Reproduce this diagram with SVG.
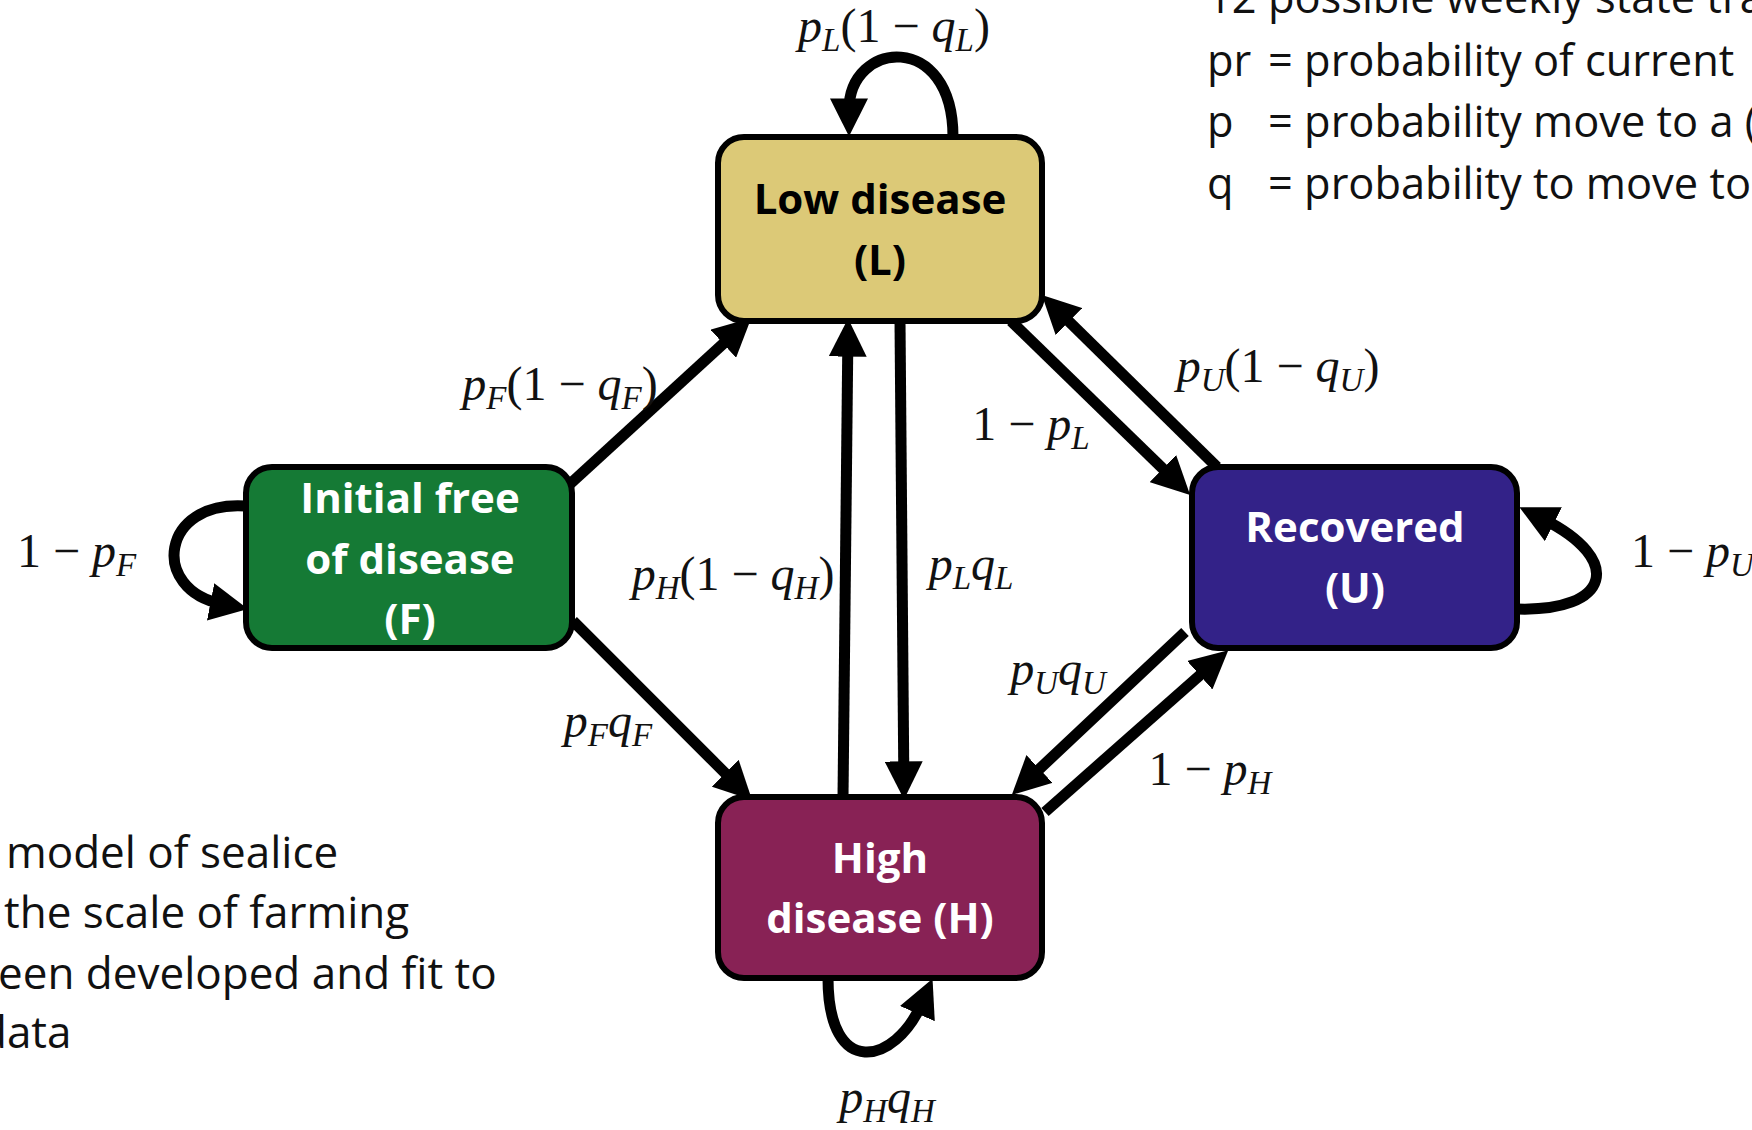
<svg xmlns="http://www.w3.org/2000/svg" width="1752" height="1130" viewBox="0 0 1752 1130">
  <style>
    .box { stroke: #000; stroke-width: 6; }
    .lbl { font-family: "Open Sans", "Noto Sans", sans-serif; font-weight: 700; font-size: 42px; text-anchor: middle; }
    .edge { fill: none; stroke: #000; stroke-width: 11; marker-end: url(#ah); }
    .m { font-family: "Liberation Serif", serif; font-size: 48px; fill: #111; }
    .i { font-style: italic; }
    .s { font-style: italic; font-size: 33px; }
    .note { font-family: "Open Sans", "Noto Sans", sans-serif; font-size: 44px; fill: #111; }
    .legend { font-size: 43.4px; }
  </style>
  <defs>
    <marker id="ah" markerUnits="userSpaceOnUse" markerWidth="38" markerHeight="38" viewBox="0 0 36 36" refX="11" refY="18" orient="auto">
      <path d="M0,0 L36,18 L0,36 z" fill="#000"/>
    </marker>
  </defs>

  <rect width="1752" height="1130" fill="#fff"/>

  <!-- legend, top right -->
  <g id="legend">
    <text class="note legend" x="1207" y="13">12 possible weekly state tra</text>
    <text class="note legend" y="76"><tspan x="1207">pr</tspan><tspan x="1268">= probability of current</tspan></text>
    <text class="note legend" y="137"><tspan x="1207">p</tspan><tspan x="1268">= probability move to a (</tspan></text>
    <text class="note legend" y="199"><tspan x="1207">q</tspan><tspan x="1268">= probability to move to</tspan></text>
  </g>

  <!-- description, bottom left -->
  <g id="description">
    <text class="note" x="6" y="868">model of sealice</text>
    <text class="note" x="4" y="928">the scale of farming</text>
    <text class="note" x="-2" y="989">een developed and fit to</text>
    <text class="note" x="-20" y="1048">data</text>
  </g>

  <!-- transitions -->
  <g id="connectors">
    <path class="edge" d="M570,484 L731.8,335.9"/>
    <path class="edge" d="M573,621 L733.4,781.4"/>
    <path class="edge" d="M843,797 L847.8,345"/>
    <path class="edge" d="M900,321 L903.8,773"/>
    <path class="edge" d="M1011,321 L1171.2,476.7"/>
    <path class="edge" d="M1217,467 L1060.7,313.4"/>
    <path class="edge" d="M1185,632 L1031,776.9"/>
    <path class="edge" d="M1045,812 L1208.5,667.6"/>
    <!-- self loops -->
    <path class="edge" d="M953,137 C953,30 849,40 849,110"/>
    <path class="edge" d="M246,506 C160,500 150,590 222,604"/>
    <path class="edge" d="M1517,609 C1610,612 1625,560 1543,519"/>
    <path class="edge" d="M828,978 C828,1080 895,1065 922,1003"/>
  </g>

  <!-- states -->
  <g id="node-L">
    <rect class="box" x="718" y="137" width="324" height="184" rx="26" fill="#DCC977"/>
    <text class="lbl" x="880" y="214" fill="#000">Low disease</text>
    <text class="lbl" x="880" y="275" fill="#000">(L)</text>
  </g>
  <g id="node-F">
    <rect class="box" x="246" y="467" width="326" height="181" rx="26" fill="#157A35"/>
    <text class="lbl" x="410" y="513" fill="#fff">Initial free</text>
    <text class="lbl" x="410" y="574" fill="#fff">of disease</text>
    <text class="lbl" x="410" y="634" fill="#fff">(F)</text>
  </g>
  <g id="node-U">
    <rect class="box" x="1192" y="467" width="325" height="181" rx="26" fill="#332288"/>
    <text class="lbl" x="1355" y="542" fill="#fff">Recovered</text>
    <text class="lbl" x="1355" y="603" fill="#fff">(U)</text>
  </g>
  <g id="node-H">
    <rect class="box" x="718" y="797" width="324" height="181" rx="26" fill="#882255"/>
    <text class="lbl" x="880" y="873" fill="#fff">High</text>
    <text class="lbl" x="880" y="933" fill="#fff">disease (H)</text>
  </g>

  <!-- transition probabilities -->
  <g id="labels">
    <text class="m" x="894" y="42" text-anchor="middle"><tspan class="i">p</tspan><tspan class="s" dy="9">L</tspan><tspan dy="-9">(1 − </tspan><tspan class="i">q</tspan><tspan class="s" dy="9">L</tspan><tspan dy="-9">)</tspan></text>
    <text class="m" x="560" y="400" text-anchor="middle"><tspan class="i">p</tspan><tspan class="s" dy="9">F</tspan><tspan dy="-9">(1 − </tspan><tspan class="i">q</tspan><tspan class="s" dy="9">F</tspan><tspan dy="-9">)</tspan></text>
    <text class="m" x="1278" y="382" text-anchor="middle"><tspan class="i">p</tspan><tspan class="s" dy="9">U</tspan><tspan dy="-9">(1 − </tspan><tspan class="i">q</tspan><tspan class="s" dy="9">U</tspan><tspan dy="-9">)</tspan></text>
    <text class="m" x="733" y="590" text-anchor="middle"><tspan class="i">p</tspan><tspan class="s" dy="9">H</tspan><tspan dy="-9">(1 − </tspan><tspan class="i">q</tspan><tspan class="s" dy="9">H</tspan><tspan dy="-9">)</tspan></text>
    <text class="m" x="1031" y="440" text-anchor="middle">1 − <tspan class="i">p</tspan><tspan class="s" dy="9">L</tspan></text>
    <text class="m" x="1210" y="785" text-anchor="middle">1 − <tspan class="i">p</tspan><tspan class="s" dy="9">H</tspan></text>
    <text class="m" x="17" y="567">1 − <tspan class="i">p</tspan><tspan class="s" dy="9">F</tspan></text>
    <text class="m" x="1631" y="567">1 − <tspan class="i">p</tspan><tspan class="s" dy="9">U</tspan></text>
    <text class="m" x="971" y="580" text-anchor="middle"><tspan class="i">p</tspan><tspan class="s" dy="9">L</tspan><tspan class="i" dy="-9">q</tspan><tspan class="s" dy="9">L</tspan></text>
    <text class="m" x="608" y="737" text-anchor="middle"><tspan class="i">p</tspan><tspan class="s" dy="9">F</tspan><tspan class="i" dy="-9">q</tspan><tspan class="s" dy="9">F</tspan></text>
    <text class="m" x="1058" y="685" text-anchor="middle"><tspan class="i">p</tspan><tspan class="s" dy="9">U</tspan><tspan class="i" dy="-9">q</tspan><tspan class="s" dy="9">U</tspan></text>
    <text class="m" x="887" y="1113" text-anchor="middle"><tspan class="i">p</tspan><tspan class="s" dy="9">H</tspan><tspan class="i" dy="-9">q</tspan><tspan class="s" dy="9">H</tspan></text>
  </g>
</svg>
